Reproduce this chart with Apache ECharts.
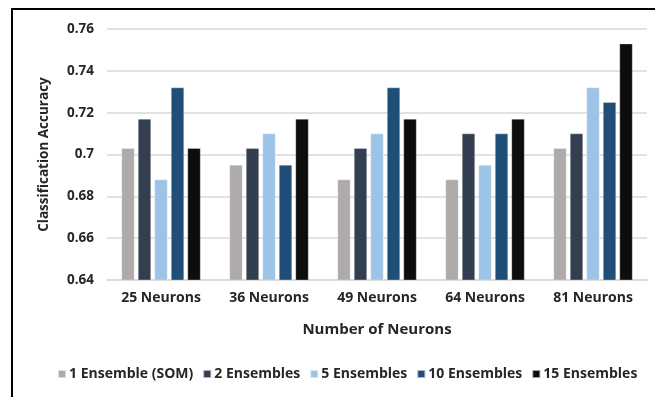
<!DOCTYPE html>
<html><head><meta charset="utf-8">
<script src="https://cdn.jsdelivr.net/npm/echarts@6/dist/echarts.min.js"></script>
<style>html,body{margin:0;padding:0;background:#fff}#c{width:655px;height:397px}</style>
</head><body><div id="c"></div>
<script>
const categories = ['25 Neurons','36 Neurons','49 Neurons','64 Neurons','81 Neurons'];
const seriesNames = ['1 Ensemble (SOM)','2 Ensembles','5 Ensembles','10 Ensembles','15 Ensembles'];
const som1 = [0.703, 0.695, 0.688, 0.688, 0.703];
const ens2 = [0.717, 0.703, 0.703, 0.710, 0.710];
const ens5 = [0.688, 0.710, 0.710, 0.695, 0.732];
const ens10 = [0.732, 0.695, 0.732, 0.710, 0.725];
const ens15 = [0.703, 0.717, 0.717, 0.717, 0.753];
const yTicks = [0.64, 0.66, 0.68, 0.70, 0.72, 0.74, 0.76];
const colors = ['#aeaaaa','#333f50','#9dc3e6','#1f4e79','#0d0d0d'];
const allData = [som1, ens2, ens5, ens10, ens15];
const font = '"Open Sans", Lato, sans-serif';
const txt = '#262626';
const chart = echarts.init(document.getElementById('c'));
chart.setOption({
  animation: false,
  textStyle: {fontFamily: font},
  graphic: [{type:'rect', shape:{x:12,y:9,width:700,height:400}, style:{fill:'none', stroke:'#000', lineWidth:2}, silent:true}],
  grid: {left:107, right:8, top:29, bottom:117, containLabel:false},
  legend: {
    bottom: 11, left: 52, itemWidth: 8, itemHeight: 8, itemGap: 9,
    textStyle: {fontFamily: font, fontWeight:'bold', fontSize: 14, color:txt, padding:[0,0,0,-2]},
    data: seriesNames.map(n => ({name:n, icon:'rect'}))
  },
  xAxis: {
    type:'category', data: categories,
    name:'Number of Neurons', nameLocation:'middle', nameGap: 42,
    nameTextStyle:{fontFamily:font, fontWeight:'bold', fontSize:15, color:txt},
    axisLine:{show:true, lineStyle:{color:'#d9d9d9', width:1.5}},
    axisTick:{show:false},
    axisLabel:{fontFamily:font, fontWeight:'bold', fontSize:14, color:txt, margin:11}
  },
  yAxis: {
    type:'value', min:0.64, max:0.76, interval:0.02,
    name:'Classification Accuracy', nameLocation:'middle', nameGap: 56, nameRotate: 90,
    nameTextStyle:{fontFamily:font, fontWeight:'bold', fontSize:13.5, color:txt},
    axisLine:{show:false}, axisTick:{show:false},
    splitLine:{lineStyle:{color:'#d9d9d9', width:1.5}},
    axisLabel:{fontFamily:font, fontWeight:'bold', fontSize:13.5, color:txt, margin:13,
      formatter: v => { const t = yTicks.find(x => Math.abs(x - v) < 1e-9); return t === undefined ? '' : String(+t.toFixed(2)); }}
  },
  series: seriesNames.map((n,i) => ({
    name:n, type:'bar', data: allData[i], barWidth: 13, barGap:'27%',
    itemStyle:{color: colors[i], borderColor:'rgba(255,255,255,0.6)', borderWidth:0.5}
  }))
});
</script></body></html>
